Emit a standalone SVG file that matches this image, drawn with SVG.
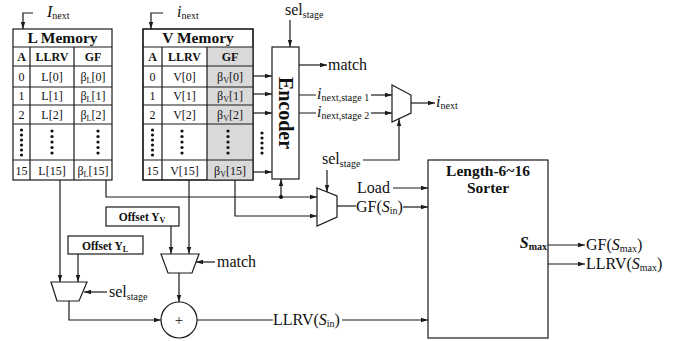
<svg xmlns="http://www.w3.org/2000/svg" width="683" height="341" viewBox="0 0 683 341">
<defs>
<marker id="ah" markerWidth="8" markerHeight="6" refX="7" refY="3" orient="auto" markerUnits="userSpaceOnUse">
<path d="M0,0.8 L7,3 L0,5.2 Z" fill="#1a1a1a"/>
</marker>
</defs>
<style>
.ln{fill:none;stroke:#1a1a1a;stroke-width:1.2}
.a{marker-end:url(#ah)}
.box{fill:#fff;stroke:#1a1a1a;stroke-width:1.2}
.gray{fill:#d9d9d9;stroke:none}
.t{font-family:"Liberation Serif","Times New Roman",serif;fill:#111}
.tb{font-family:"Liberation Serif","Times New Roman",serif;fill:#111;font-weight:bold}
.cell{font-size:12px;text-anchor:middle}
.big{font-size:16px}
.sub{font-size:10px}
.dot{fill:#111}
</style>
<rect width="683" height="341" fill="#fff"/>

<g id="lmem">
<rect class="box" x="13" y="29" width="99" height="151"/>
<path class="ln" d="M13,47H112M13,66H112M13,87H112M13,105H112M13,124H112M13,160H112M30,47V180M74,47V180"/>
<text class="tb" x="62.5" y="43" font-size="15.5" text-anchor="middle">L Memory</text>
<text class="tb cell" x="21.5" y="61">A</text>
<text class="tb cell" x="52" y="61">LLRV</text>
<text class="tb cell" x="93" y="61">GF</text>
<text class="t cell" x="21.5" y="81">0</text><text class="t cell" x="52" y="81">L[0]</text>
<text class="t cell" x="93" y="81">β<tspan font-size="8" dy="2">L</tspan><tspan dy="-2">[0]</tspan></text>
<text class="t cell" x="21.5" y="100">1</text><text class="t cell" x="52" y="100">L[1]</text>
<text class="t cell" x="93" y="100">β<tspan font-size="8" dy="2">L</tspan><tspan dy="-2">[1]</tspan></text>
<text class="t cell" x="21.5" y="119">2</text><text class="t cell" x="52" y="119">L[2]</text>
<text class="t cell" x="93" y="119">β<tspan font-size="8" dy="2">L</tspan><tspan dy="-2">[2]</tspan></text>
<text class="t cell" x="21.5" y="175">15</text><text class="t cell" x="52" y="175">L[15]</text>
<text class="t cell" x="93" y="175">β<tspan font-size="8" dy="2">L</tspan><tspan dy="-2">[15]</tspan></text>
<g class="dot">
<circle cx="21.5" cy="130" r="1.6"/><circle cx="21.5" cy="135" r="1.6"/><circle cx="21.5" cy="140" r="1.6"/><circle cx="21.5" cy="145" r="1.6"/><circle cx="21.5" cy="150" r="1.6"/><circle cx="21.5" cy="155" r="1.6"/>
<circle cx="52" cy="131" r="1.6"/><circle cx="52" cy="136.5" r="1.6"/><circle cx="52" cy="142" r="1.6"/><circle cx="52" cy="147.5" r="1.6"/><circle cx="52" cy="153" r="1.6"/>
<circle cx="98" cy="131" r="1.6"/><circle cx="98" cy="136.5" r="1.6"/><circle cx="98" cy="142" r="1.6"/><circle cx="98" cy="147.5" r="1.6"/><circle cx="98" cy="153" r="1.6"/>
</g>
</g>

<g id="vmem">
<rect class="box" x="143" y="29" width="110" height="151"/>
<rect class="gray" x="207" y="47" width="46" height="133"/>
<path class="ln" d="M143,29H253V180H143Z M143,47H253M143,66H253M143,87H253M143,105H253M143,124H253M143,160H253M162,47V180M207,47V180"/>
<text class="tb" x="198" y="43" font-size="15.5" text-anchor="middle">V Memory</text>
<text class="tb cell" x="152.5" y="61">A</text>
<text class="tb cell" x="184.5" y="61">LLRV</text>
<text class="tb cell" x="230" y="61">GF</text>
<text class="t cell" x="152.5" y="81">0</text><text class="t cell" x="184.5" y="81">V[0]</text>
<text class="t cell" x="230" y="81">β<tspan font-size="8" dy="2">V</tspan><tspan dy="-2">[0]</tspan></text>
<text class="t cell" x="152.5" y="100">1</text><text class="t cell" x="184.5" y="100">V[1]</text>
<text class="t cell" x="230" y="100">β<tspan font-size="8" dy="2">V</tspan><tspan dy="-2">[1]</tspan></text>
<text class="t cell" x="152.5" y="119">2</text><text class="t cell" x="184.5" y="119">V[2]</text>
<text class="t cell" x="230" y="119">β<tspan font-size="8" dy="2">V</tspan><tspan dy="-2">[2]</tspan></text>
<text class="t cell" x="152.5" y="175">15</text><text class="t cell" x="184.5" y="175">V[15]</text>
<text class="t cell" x="230" y="175">β<tspan font-size="8" dy="2">V</tspan><tspan dy="-2">[15]</tspan></text>
<g class="dot">
<circle cx="152.5" cy="130" r="1.6"/><circle cx="152.5" cy="135" r="1.6"/><circle cx="152.5" cy="140" r="1.6"/><circle cx="152.5" cy="145" r="1.6"/><circle cx="152.5" cy="150" r="1.6"/><circle cx="152.5" cy="155" r="1.6"/>
<circle cx="182" cy="131" r="1.6"/><circle cx="182" cy="136.5" r="1.6"/><circle cx="182" cy="142" r="1.6"/><circle cx="182" cy="147.5" r="1.6"/><circle cx="182" cy="153" r="1.6"/>
<circle cx="228" cy="131" r="1.6"/><circle cx="228" cy="136.5" r="1.6"/><circle cx="228" cy="142" r="1.6"/><circle cx="228" cy="147.5" r="1.6"/><circle cx="228" cy="153" r="1.6"/>
<circle cx="262" cy="133" r="1.6"/><circle cx="262" cy="138" r="1.6"/><circle cx="262" cy="143" r="1.6"/><circle cx="262" cy="148" r="1.6"/><circle cx="262" cy="153" r="1.6"/>
</g>
</g>

<g id="encoder">
<rect class="box" x="272" y="47" width="27" height="132"/>
<text class="tb" font-size="20" text-anchor="middle" transform="translate(279,113) rotate(90)">Encoder</text>
</g>

<g id="mux-inext">
<path class="box" d="M392,85L411,95V113L392,122Z"/>
</g>
<g id="mux-gf">
<path class="box" d="M317,188L337,196V217L317,226Z"/>
</g>
<g id="mux-v">
<path class="box" d="M161,254H199L192,273H168Z"/>
</g>
<g id="mux-l">
<path class="box" d="M51,282H87L79,301H57Z"/>
</g>
<g id="adder">
<circle class="box" cx="179" cy="320" r="18"/>
<text class="t" x="179" y="325" font-size="15" text-anchor="middle">+</text>
</g>
<g id="offset-v">
<rect class="box" x="106" y="207" width="73" height="19"/>
<text class="tb" x="142" y="221" font-size="11.5" text-anchor="middle">Offset Y<tspan font-size="8" dy="2">V</tspan></text>
</g>
<g id="offset-l">
<rect class="box" x="68" y="236" width="75" height="18"/>
<text class="tb" x="105" y="249.5" font-size="11.5" text-anchor="middle">Offset Y<tspan font-size="8" dy="2">L</tspan></text>
</g>
<g id="sorter">
<rect class="box" x="428" y="160" width="120" height="178"/>
<text class="tb" x="488" y="176" font-size="15.5" text-anchor="middle">Length-6~16</text>
<text class="tb" x="488" y="193" font-size="15.5" text-anchor="middle">Sorter</text>
<text class="tb" x="547" y="248" font-size="16" text-anchor="end" font-style="italic">S<tspan font-size="10" font-style="normal" dy="2">max</tspan></text>
</g>

<g id="connectors">
<path class="ln a" d="M33,13H23V29"/>
<path class="ln a" d="M163,13H151V29"/>
<path class="ln a" d="M290,20V47"/>
<path class="ln a" d="M253,76H272"/>
<path class="ln a" d="M253,94H272"/>
<path class="ln a" d="M253,113H272"/>
<path class="ln a" d="M253,172H272"/>
<path class="ln a" d="M299,65H327"/>
<path class="ln" d="M299,95H316M299,113H316"/>
<path class="ln a" d="M371,95H392"/>
<path class="ln a" d="M371,113H392"/>
<path class="ln a" d="M411,103H435"/>
<path class="ln a" d="M363,160H399V119"/>
<path class="ln a" d="M60,180V282"/>
<path class="ln a" d="M106,180V197H317"/>
<path class="ln a" d="M235,180V216H317"/>
<path class="ln a" d="M189,180V254"/>
<path class="ln a" d="M281,197V179"/>
<circle class="dot" cx="281" cy="197" r="2"/>
<path class="ln a" d="M327,170V192"/>
<path class="ln a" d="M171,226V254"/>
<path class="ln a" d="M78,254V282"/>
<path class="ln a" d="M215,262H196"/>
<path class="ln a" d="M179,273V302"/>
<path class="ln a" d="M107,292H84"/>
<path class="ln a" d="M69,301V320H161"/>
<path class="ln" d="M197,320H273"/>
<path class="ln a" d="M342,320H428"/>
<path class="ln" d="M337,206H356"/>
<path class="ln a" d="M403,207H428"/>
<path class="ln a" d="M393,188H428"/>
<path class="ln a" d="M548,245H585"/>
<path class="ln a" d="M548,264H585"/>
</g>

<g id="labels">
<text class="t big" x="47" y="17"><tspan font-style="italic">I</tspan><tspan class="sub" dy="2">next</tspan></text>
<text class="t big" x="177" y="17"><tspan font-style="italic">i</tspan><tspan class="sub" dy="2">next</tspan></text>
<text class="t big" x="285" y="15">sel<tspan class="sub" dy="3">stage</tspan></text>
<text class="t big" x="328" y="70">match</text>
<text class="t big" x="317" y="99"><tspan font-style="italic">i</tspan><tspan class="sub" dy="2">next,stage 1</tspan></text>
<text class="t big" x="317" y="117"><tspan font-style="italic">i</tspan><tspan class="sub" dy="2">next,stage 2</tspan></text>
<text class="t big" x="436" y="107"><tspan font-style="italic">i</tspan><tspan class="sub" dy="2">next</tspan></text>
<text class="t big" x="322" y="164">sel<tspan class="sub" dy="3">stage</tspan></text>
<text class="t big" x="357" y="193">Load</text>
<text class="t big" x="356" y="212">GF(<tspan font-style="italic">S</tspan><tspan class="sub" dy="2">in</tspan><tspan dy="-2">)</tspan></text>
<text class="t big" x="217" y="267">match</text>
<text class="t big" x="109" y="297">sel<tspan class="sub" dy="3">stage</tspan></text>
<text class="t big" x="273" y="325">LLRV(<tspan font-style="italic">S</tspan><tspan class="sub" dy="2">in</tspan><tspan dy="-2">)</tspan></text>
<text class="t big" x="586" y="250">GF(<tspan font-style="italic">S</tspan><tspan class="sub" dy="2">max</tspan><tspan dy="-2">)</tspan></text>
<text class="t big" x="586" y="269">LLRV(<tspan font-style="italic">S</tspan><tspan class="sub" dy="2">max</tspan><tspan dy="-2">)</tspan></text>
</g>
</svg>
